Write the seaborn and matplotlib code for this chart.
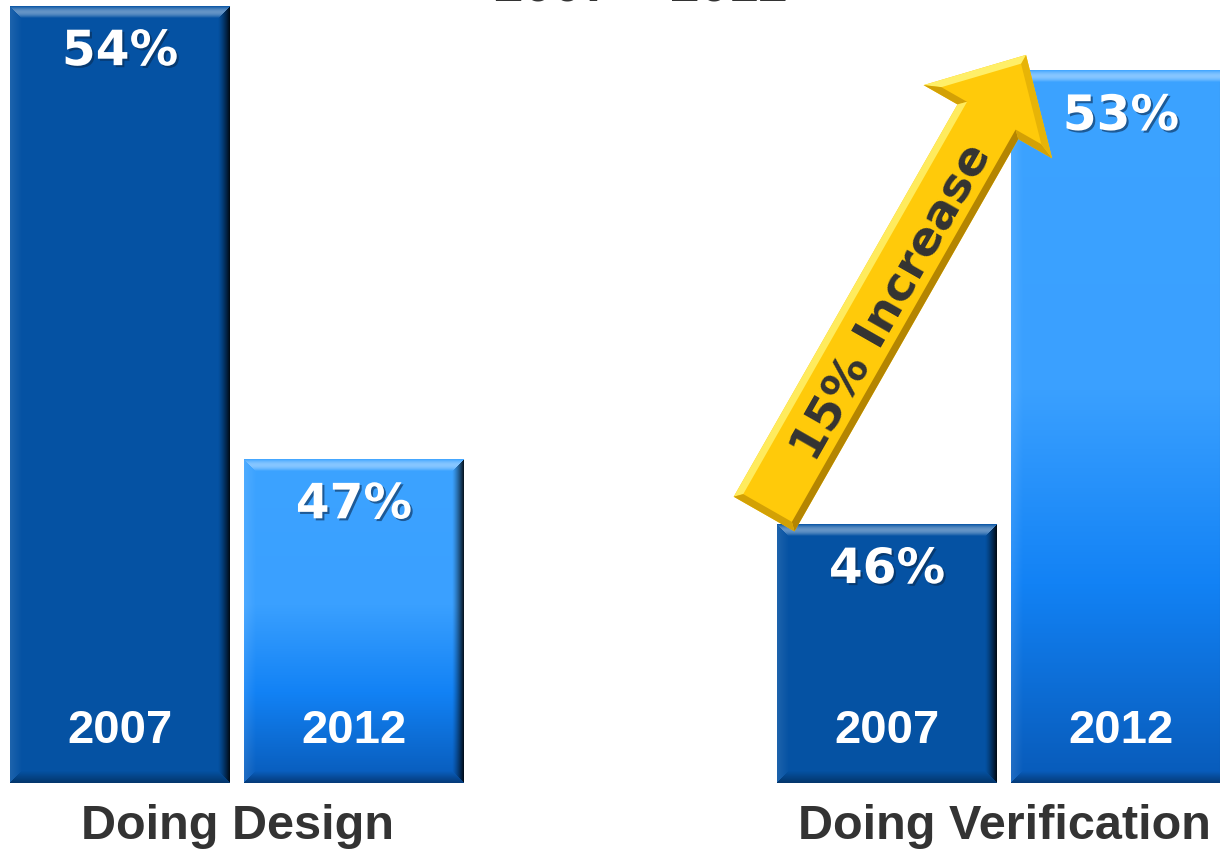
import numpy as np
import pandas as pd
import matplotlib
matplotlib.use("Agg")
import matplotlib.pyplot as plt
import matplotlib.patheffects as pe
from matplotlib.patches import Polygon
from matplotlib.colors import to_rgb
import seaborn as sns

# ---- data -------------------------------------------------------------
categories = ["Doing Design", "Doing Verification"]
years = ["2007", "2012"]
share_2007 = [54, 46]
share_2012 = [47, 53]
increase_label = "15% Increase"
title_text = "2007 \u2013 2012"

df = pd.DataFrame({
    "Category": categories * 2,
    "Year": [years[0]] * len(categories) + [years[1]] * len(categories),
    "Share": share_2007 + share_2012,
})

# ---- styling ----------------------------------------------------------
sns.set_style("white")
plt.rcParams["font.family"] = ["DejaVu Sans"]

DARK = "#0552A3"
LIGHT = "#3BA3FF"
TEXT_GREY = "#333333"
W_PX, H_PX = 1220, 850
PT = 72 / 100  # points per pixel at dpi 100

fig = plt.figure(figsize=(W_PX / 100, H_PX / 100), dpi=100)
fig.patch.set_facecolor("white")
ax = fig.add_axes([0, 67 / H_PX, 1, 783 / H_PX])

sns.barplot(data=df, x="Category", y="Share", hue="Year",
            order=categories, hue_order=years,
            palette={years[0]: DARK, years[1]: LIGHT},
            width=0.61, gap=0.06, saturation=1, errorbar=None,
            legend=False, ax=ax)

XLIM = (-0.309, 1.2816)
YLIM = (42, 54.095)


def set_limits():
    ax.set_xlim(*XLIM)
    ax.set_ylim(*YLIM)


set_limits()
ax.set_xlabel("")
ax.set_ylabel("")
ax.set_yticks([])
sns.despine(ax=ax, left=True, bottom=True)
ax.tick_params(axis="x", length=0, pad=15)
for lbl in ax.get_xticklabels():
    lbl.set_fontfamily("Liberation Sans")
    lbl.set_fontweight("bold")
    lbl.set_fontsize(35)
    lbl.set_color(TEXT_GREY)


# ---- bevelled bar faces -------------------------------------------------
def bar_face(w, h, gradient):
    i = (np.arange(h) + 0.5)[:, None] * np.ones((1, w))
    j = (np.arange(w) + 0.5)[None, :] * np.ones((h, 1))
    t = i[:, 0] / h
    if gradient:
        stops = [0.0, 0.45, 0.72, 1.0]
        cols = np.array([to_rgb("#3CA3FF"), to_rgb("#3AA0FF"),
                         to_rgb("#1282F5"), to_rgb("#085AB8")])
        base = np.stack([np.interp(t, stops, cols[:, k]) for k in range(3)], axis=1)
    else:
        base = np.tile(np.array(to_rgb(DARK)), (h, 1))
    img = np.repeat(base[:, None, :], w, axis=1)

    dist = np.stack([i, h - i, j, w - j])
    side = np.argmin(dist, axis=0)
    d = np.min(dist, axis=0)
    b = 12.0
    r = np.clip(d / b, 0, 1)[..., None]
    inside = (d < b)[..., None]

    top = inside & (side == 0)[..., None]
    bottom = inside & (side == 1)[..., None]
    left = inside & (side == 2)[..., None]
    right = inside & (side == 3)[..., None]

    lighten_top = img + (1 - img) * 0.38 * np.sin(np.pi * r)
    lighten_left = img + (1 - img) * 0.10 * (1 - r)
    darken_right = img * (1 - 0.9 * (1 - r) ** 1.3)
    darken_bottom = img * (1 - 0.35 * (1 - r))

    img = np.where(top, lighten_top, img)
    img = np.where(left, lighten_left, img)
    img = np.where(right, darken_right, img)
    img = np.where(bottom, darken_bottom, img)
    return np.clip(img, 0, 1)


to_px = ax.transData.transform
for hue_idx, cont in enumerate(ax.containers):
    for p in cont:
        x0 = p.get_x()
        x1 = x0 + p.get_width()
        ytop = p.get_y() + p.get_height()
        ybot = max(p.get_y(), YLIM[0])
        (px0, py0), (px1, py1) = to_px((x0, ybot)), to_px((x1, ytop))
        w, h = int(round(px1 - px0)), int(round(py1 - py0))
        ax.imshow(bar_face(w, h, gradient=(hue_idx == 1)),
                  extent=(x0, x1, ybot, ytop), aspect="auto",
                  interpolation="nearest", zorder=3)
        cx = x0 + p.get_width() / 2
        # value label near the top of the bar
        ax.annotate(f"{p.get_height():.0f}%", xy=(cx, ytop),
                    xytext=(0, -45 * PT), textcoords="offset points",
                    ha="center", va="center", color="white",
                    fontsize=35, fontweight="bold", family="DejaVu Sans",
                    zorder=6,
                    path_effects=[pe.withSimplePatchShadow(
                        offset=(1.5, -1.5), shadow_rgbFace="#0a2a50", alpha=0.6)])
        # year label near the bottom of the bar
        ax.annotate(years[hue_idx], xy=(cx, YLIM[0]),
                    xytext=(0, 52 * PT), textcoords="offset points",
                    ha="center", va="center", color="white",
                    fontsize=34, fontweight="bold", family="Liberation Sans",
                    zorder=6)

set_limits()

# ---- growth arrow between the verification bars -------------------------
v07 = ax.containers[0][1]
v12 = ax.containers[1][1]
l07, t07 = to_px((v07.get_x(), v07.get_height()))
l12, t12 = to_px((v12.get_x(), v12.get_height()))
T = np.array([l07 - 13, t07 + 10])
P = np.array([l12 + 15, t12 + 16])
L = np.linalg.norm(P - T)
u = (P - T) / L
n = np.array([-u[1], u[0]])
hw, HW, head = 35, 74, 77
local = [(0, -hw), (L - head, -hw), (L - head, -HW), (L, 0),
         (L - head, HW), (L - head, hw), (0, hw)]
verts = np.array([T + s * u + q * n for s, q in local])

gold = np.array(to_rgb("#FFCA0A"))
gold_light = np.array(to_rgb("#FFF06A"))
gold_dark = np.array(to_rgb("#A87A00"))


def to_fig(xy):
    return np.asarray(xy) / np.array([W_PX, H_PX])


# inward offset of the outline for the bevel
area = 0.5 * np.sum(verts[:, 0] * np.roll(verts[:, 1], -1)
                    - np.roll(verts[:, 0], -1) * verts[:, 1])
sgn = 1 if area > 0 else -1
N = len(verts)
inward = []
for k in range(N):
    e = verts[(k + 1) % N] - verts[k]
    e = e / np.linalg.norm(e)
    inward.append(sgn * np.array([-e[1], e[0]]))
inward = np.array(inward)
depth = 7.0
inner = []
for k in range(N):
    n1, n2 = inward[k - 1], inward[k]
    m = (n1 + n2) / (1 + np.dot(n1, n2))
    inner.append(verts[k] + depth * m)
inner = np.array(inner)

fig.add_artist(Polygon(to_fig(verts), closed=True, facecolor=gold,
                       edgecolor="none", transform=fig.transFigure, zorder=4))
light_dir = np.array([-0.5, 0.87])
for k in range(N):
    k2 = (k + 1) % N
    shade = float(np.dot(-inward[k], light_dir))
    col = gold + (gold_light - gold) * shade if shade > 0 else gold + (gold_dark - gold) * (-shade)
    quad = np.array([verts[k], verts[k2], inner[k2], inner[k]])
    fig.add_artist(Polygon(to_fig(quad), closed=True, facecolor=np.clip(col, 0, 1),
                           edgecolor="none", transform=fig.transFigure, zorder=4.5))

label_pos = to_fig(T + 247 * u - 7 * n)
fig.text(label_pos[0], label_pos[1], increase_label,
         rotation=np.degrees(np.arctan2(u[1], u[0])), rotation_mode="anchor",
         ha="center", va="center", fontsize=34, fontweight="bold",
         color=TEXT_GREY, family="DejaVu Sans", zorder=7)

# ---- heading --------------------------------------------------------------
fig.text(641 / W_PX, 1 - 2 / H_PX, title_text, ha="center", va="baseline",
         fontsize=38, fontweight="bold", color=TEXT_GREY,
         family="Liberation Sans")

fig.savefig("out.png", dpi=100, facecolor="white")
